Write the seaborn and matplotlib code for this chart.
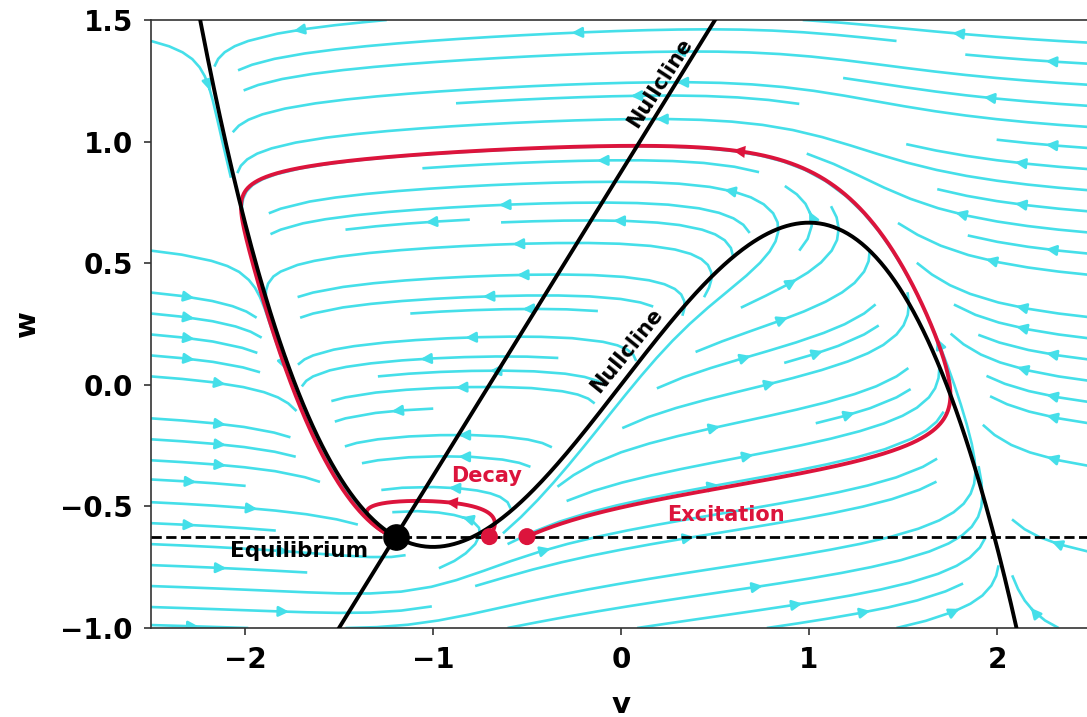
import numpy as np
import pandas as pd
import matplotlib
matplotlib.use("Agg")
import matplotlib.pyplot as plt
import seaborn as sns

# FitzHugh-Nagumo model parameters
a = 0.7
b = 0.8
tau = 12.5
I_ext = 0.0

v_range = [-2.5, 2.5]
w_range = [-1.0, 1.5]
v_ticks = [-2, -1, 0, 1, 2]
w_ticks = [-1.0, -0.5, 0.0, 0.5, 1.0, 1.5]

# perturbed starting voltages (sub-threshold and supra-threshold)
start_v = [-0.7, -0.5]
traj_labels = ["Decay", "Excitation"]
# v positions where the direction arrows sit on each trajectory
arrow_v = [-0.93, 0.6]

stream_color = "#45dfe9"
traj_color = "#dc143c"

sns.set_theme(style="ticks")
plt.rcParams["font.family"] = ["DejaVu Sans"]
plt.rcParams["font.weight"] = "bold"
plt.rcParams["axes.labelweight"] = "bold"
plt.rcParams["text.color"] = "black"
plt.rcParams["axes.labelcolor"] = "black"
plt.rcParams["xtick.color"] = "#333333"
plt.rcParams["ytick.color"] = "#333333"
plt.rcParams["xtick.labelcolor"] = "black"
plt.rcParams["ytick.labelcolor"] = "black"


def field(v, w):
    dv = v - v ** 3 / 3 - w + I_ext
    dw = (v + a - b * w) / tau
    return dv, dw


def integrate(v0, w0, t_end=80.0, dt=0.01):
    n = int(t_end / dt)
    vs = np.empty(n + 1)
    ws = np.empty(n + 1)
    vs[0], ws[0] = v0, w0
    v, w = v0, w0
    for i in range(n):
        k1 = field(v, w)
        k2 = field(v + 0.5 * dt * k1[0], w + 0.5 * dt * k1[1])
        k3 = field(v + 0.5 * dt * k2[0], w + 0.5 * dt * k2[1])
        k4 = field(v + dt * k3[0], w + dt * k3[1])
        v = v + dt / 6 * (k1[0] + 2 * k2[0] + 2 * k3[0] + k4[0])
        w = w + dt / 6 * (k1[1] + 2 * k2[1] + 2 * k3[1] + k4[1])
        vs[i + 1], ws[i + 1] = v, w
    return vs, ws


# equilibrium: intersection of the two nullclines
roots = np.roots([-1 / 3, 0, 1 - 1 / b, I_ext - a / b])
v_eq = float(np.real(roots[np.abs(np.imag(roots)) < 1e-9][0]))
w_eq = (v_eq + a) / b

fig = plt.figure(figsize=(10.87, 7.17), dpi=100)
ax = fig.add_axes([151 / 1087, 89 / 717, 940 / 1087, 608 / 717])

# vector field
vg = np.linspace(v_range[0], v_range[1], 120)
wg = np.linspace(w_range[0], w_range[1], 120)
V, W = np.meshgrid(vg, wg)
DV, DW = field(V, W)
ax.streamplot(V, W, DV, DW, density=1.0, color=stream_color,
              linewidth=1.9, arrowsize=1.5, zorder=1)

# nullclines
v_line = np.linspace(v_range[0], v_range[1], 600)
cubic = pd.DataFrame({"v": v_line, "w": v_line - v_line ** 3 / 3 + I_ext})
linear = pd.DataFrame({"v": v_line, "w": (v_line + a) / b})
sns.lineplot(data=cubic, x="v", y="w", color="black", lw=2.8,
             sort=False, estimator=None, ax=ax, zorder=4)
sns.lineplot(data=linear, x="v", y="w", color="black", lw=2.8,
             sort=False, estimator=None, ax=ax, zorder=4)

# resting level
ax.axhline(w_eq, color="black", ls="--", lw=2.0, zorder=3)

# trajectories from the perturbed states
for v0, av in zip(start_v, arrow_v):
    vs, ws = integrate(v0, w_eq)
    traj = pd.DataFrame({"v": vs, "w": ws})
    sns.lineplot(data=traj, x="v", y="w", color=traj_color, lw=2.8,
                 sort=False, estimator=None, ax=ax, zorder=3.5)
    dvs = np.diff(vs)
    cand = np.where((dvs[:-1] < 0) & (ws[:-2] > w_eq + 0.1)
                    & (vs[:-2] >= av) & (vs[1:-1] < av))[0]
    if len(cand):
        i = cand[0]
        ax.annotate("", xy=(vs[i + 2], ws[i + 2]), xytext=(vs[i], ws[i]),
                    arrowprops=dict(arrowstyle="-|>", color=traj_color,
                                    lw=0, mutation_scale=22),
                    zorder=5)

starts = pd.DataFrame({"v": start_v, "w": [w_eq] * len(start_v)})
sns.scatterplot(data=starts, x="v", y="w", color=traj_color, s=150,
                edgecolor="none", ax=ax, zorder=6)
ax.scatter([v_eq], [w_eq], s=330, color="black", zorder=7)

# labels
ax.text(0.207, 1.24, "Nullcline", rotation=57, fontsize=15,
        fontweight="bold", ha="center", va="center", color="black")
ax.text(0.03, 0.14, "Nullcline", rotation=51, fontsize=15,
        fontweight="bold", ha="center", va="center", color="black")
ax.text(-0.716, -0.377, "Decay", fontsize=15, fontweight="bold",
        ha="center", va="center", color=traj_color)
ax.text(0.557, -0.537, "Excitation", fontsize=15, fontweight="bold",
        ha="center", va="center", color=traj_color)
ax.text(-1.71, -0.685, "Equilibrium", fontsize=15.5, fontweight="bold",
        ha="center", va="center", color="black")

ax.set_xlim(v_range)
ax.set_ylim(w_range)
ax.set_xticks(v_ticks)
ax.set_yticks(w_ticks)
ax.tick_params(labelsize=20, length=5, width=1.2, pad=8)
for lab in ax.get_xticklabels() + ax.get_yticklabels():
    lab.set_fontweight("bold")
ax.set_xlabel("v", fontsize=21, fontweight="bold", labelpad=12)
ax.set_ylabel("w", fontsize=21, fontweight="bold", labelpad=14)
for s in ax.spines.values():
    s.set_color("#333333")
    s.set_linewidth(1.2)

fig.savefig("out.png", dpi=100)
